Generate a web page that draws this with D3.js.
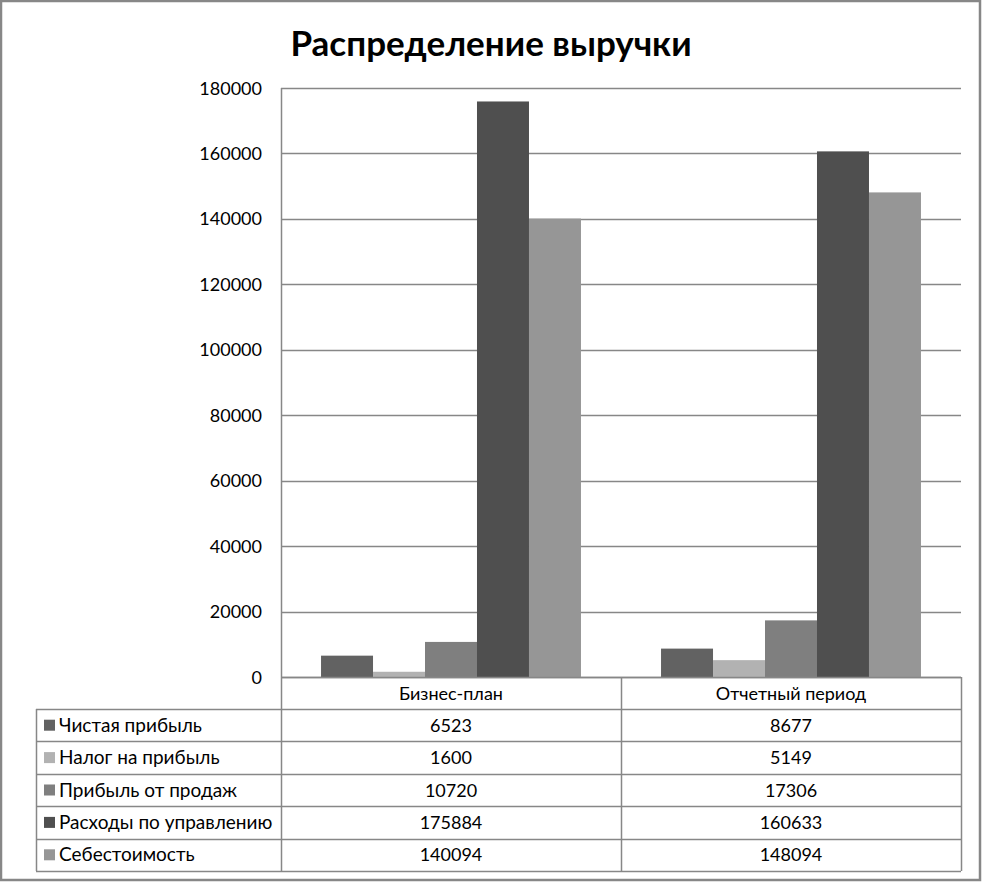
<!DOCTYPE html>
<html>
<head>
<meta charset="utf-8">
<script src="https://cdn.jsdelivr.net/npm/d3@7"></script>
<style>
  html, body { margin: 0; padding: 0; background: #fff; }
  svg { display: block; }
</style>
</head>
<body>
<script>
const title = "Распределение выручки";
const categories = ["Бизнес-план", "Отчетный период"];
const seriesNames = ["Чистая прибыль", "Налог на прибыль", "Прибыль от продаж", "Расходы по управлению", "Себестоимость"];
const seriesColors = ["#626262", "#b2b2b2", "#7f7f7f", "#4f4f4f", "#969696"];
const valuesChistaya = [6523, 8677];
const valuesNalog = [1600, 5149];
const valuesPribyl = [10720, 17306];
const valuesRashody = [175884, 160633];
const valuesSebest = [140094, 148094];
const yTicks = [0, 20000, 40000, 60000, 80000, 100000, 120000, 140000, 160000, 180000];

const series = [valuesChistaya, valuesNalog, valuesPribyl, valuesRashody, valuesSebest];

const W = 985, H = 883;
const font = "Lato, 'Open Sans', sans-serif";
const lineColor = "#878787";

const svg = d3.select("body").append("svg").attr("width", W).attr("height", H);

// outer border
svg.append("rect").attr("x", 1).attr("y", 1).attr("width", 979).attr("height", 879)
  .attr("fill", "#fff").attr("stroke", lineColor).attr("stroke-width", 2.5);

// title
svg.append("text").attr("x", 491).attr("y", 56).attr("text-anchor", "middle")
  .attr("font-family", font).attr("font-weight", "bold").attr("font-size", 35)
  .attr("fill", "#000").text(title);

const plotL = 281, plotR = 961, plotT = 88, plotB = 677;
const y = d3.scaleLinear().domain([0, 180000]).range([plotB, plotT]);
const x = d3.scaleBand().domain(categories).range([plotL, plotR]).paddingInner(0).paddingOuter(0);
const xs = d3.scaleBand().domain(d3.range(seriesNames.length)).range([0, x.bandwidth()])
  .paddingInner(0).paddingOuter(0.77);

// gridlines
svg.append("g").selectAll("line").data(yTicks).join("line")
  .attr("x1", plotL).attr("x2", plotR)
  .attr("y1", d => Math.round(y(d)) + 0.5).attr("y2", d => Math.round(y(d)) + 0.5)
  .attr("stroke", lineColor).attr("stroke-width", 1.5);

// y axis labels
svg.append("g").selectAll("text").data(yTicks).join("text")
  .attr("x", 262).attr("y", d => y(d) + 6.5).attr("text-anchor", "end")
  .attr("font-family", font).attr("font-size", 18).attr("fill", "#000")
  .text(d => d);

// bars
const gBars = svg.append("g");
series.forEach((vals, si) => {
  gBars.selectAll(null).data(vals).join("rect")
    .attr("x", (d, ci) => x(categories[ci]) + xs(si))
    .attr("width", xs.bandwidth())
    .attr("y", d => y(d))
    .attr("height", d => y(0) - y(d))
    .attr("fill", seriesColors[si]);
});

// left axis line
svg.append("line").attr("x1", plotL + 0.5).attr("x2", plotL + 0.5).attr("y1", plotT).attr("y2", plotB)
  .attr("stroke", lineColor).attr("stroke-width", 1.5);

// data table
const tableL = 36, headerB = 709, tableB = 871;
const rowH = (tableB - headerB) / seriesNames.length;
const gT = svg.append("g").attr("stroke", lineColor).attr("stroke-width", 1.5);
gT.append("line").attr("x1", plotL).attr("x2", plotR).attr("y1", plotB + 0.5).attr("y2", plotB + 0.5);
d3.range(seriesNames.length + 1).forEach(i => {
  const yy = Math.round(headerB + i * rowH) + 0.5;
  gT.append("line").attr("x1", tableL).attr("x2", plotR).attr("y1", yy).attr("y2", yy);
});
[plotL, x(categories[1]), plotR].forEach(xx => {
  gT.append("line").attr("x1", Math.round(xx) + 0.5).attr("x2", Math.round(xx) + 0.5)
    .attr("y1", plotB).attr("y2", tableB);
});
gT.append("line").attr("x1", tableL + 0.5).attr("x2", tableL + 0.5).attr("y1", headerB).attr("y2", tableB);

// header labels
svg.append("g").selectAll("text").data(categories).join("text")
  .attr("x", d => x(d) + x.bandwidth() / 2).attr("y", plotB + 23)
  .attr("text-anchor", "middle").attr("font-family", font).attr("font-size", 18).attr("fill", "#000")
  .text(d => d);

// legend rows
seriesNames.forEach((name, si) => {
  const cy = headerB + si * rowH + rowH / 2;
  svg.append("rect").attr("x", 44).attr("y", cy - 5.5).attr("width", 11).attr("height", 11)
    .attr("fill", seriesColors[si]);
  svg.append("text").attr("x", 59).attr("y", cy + 6.5)
    .attr("font-family", font).attr("font-size", 19).attr("fill", "#000").text(name);
  series[si].forEach((v, ci) => {
    svg.append("text").attr("x", x(categories[ci]) + x.bandwidth() / 2).attr("y", cy + 6.5)
      .attr("text-anchor", "middle").attr("font-family", font).attr("font-size", 18).attr("fill", "#000")
      .text(v);
  });
});
</script>
</body>
</html>
